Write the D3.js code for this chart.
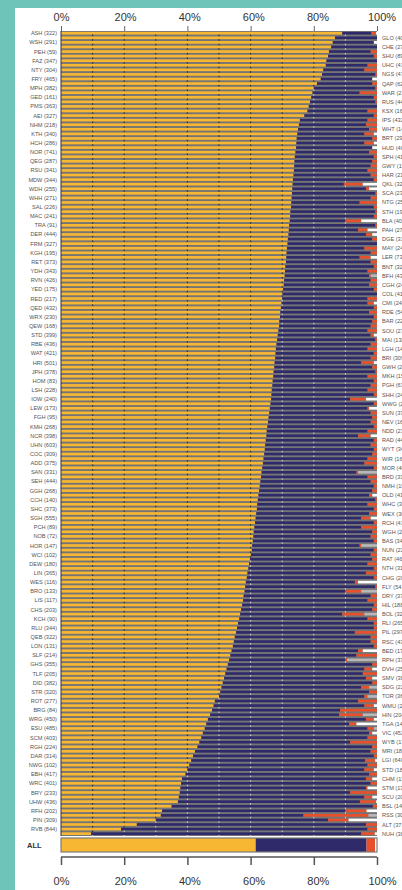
<!DOCTYPE html>
<html>
<head>
<meta charset="utf-8">
<script src="https://cdn.jsdelivr.net/npm/d3@7"></script>
<style>
html,body{margin:0;padding:0;background:#6ec4b8;overflow:hidden;}
svg{display:block;font-family:"Liberation Sans",Arial,Helvetica,sans-serif;}
</style>
</head>
<body>
<svg id="chart" width="402" height="890"></svg>
<script>
// ---------- DATA ----------
const leftLabels = ["ASH (322)","WSH (291)","PEH (59)","FAZ (347)","NTY (304)","FRY (465)","MPH (382)","GED (161)","PMS (363)","AEI (327)",
"NHM (218)","KTH (340)","HCH (286)","NOR (741)","QEG (287)","RSU (341)","MDW (344)","WDH (255)","WHH (271)","SAL (226)",
"MAC (241)","TRA (91)","DER (444)","FRM (327)","KGH (195)","RET (373)","YDH (343)","RVN (426)","YED (175)","RED (217)",
"QED (432)","WRX (230)","QEW (168)","STD (399)","RBE (436)","WAT (421)","HRI (501)","JPH (378)","HOM (83)","LSH (228)",
"IOW (240)","LEW (173)","FGH (95)","KMH (268)","NCR (398)","UHN (603)","COC (309)","ADD (375)","SAN (331)","SEH (444)",
"GGH (268)","CCH (140)","SHC (373)","SGH (555)","PCH (89)","NOB (72)","HOR (147)","WCI (102)","DEW (180)","LIN (365)",
"WES (116)","BRO (133)","LIS (117)","CHS (203)","KCH (90)","RLU (344)","QEB (322)","LON (131)","SLF (214)","GHS (355)",
"TLF (205)","DID (382)","STR (320)","ROT (277)","BRG (84)","WRG (450)","ESU (485)","SCM (403)","RGH (224)","DAR (314)",
"NWG (102)","EBH (417)","WRC (401)","BRY (233)","UHW (436)","RFH (202)","PIN (309)","RVB (844)"];

const rightLabels = ["GLO (408)","CHE (274)","SHU (89)","UHC (412)","NGS (471)","QAP (62)","WAR (215)","RUS (443)","KSX (163)","IPS (432)",
"WHT (148)","BRT (292)","HUD (405)","SPH (410)","GWY (152)","HAR (213)","QKL (325)","SCA (233)","NTG (256)","STH (195)",
"BLA (402)","PAH (275)","DGE (311)","MAY (245)","LER (731)","BNT (325)","BFH (436)","CGH (242)","COL (412)","CMI (248)",
"RDE (545)","BAR (224)","SOU (271)","MAI (138)","LGH (145)","BRI (309)","GWH (264)","MKH (156)","PGH (633)","SHH (243)",
"WWG (236)","SUN (372)","NEV (162)","NDD (235)","RAD (442)","WYT (341)","WIR (163)","MOR (407)","BRD (331)","NMH (190)",
"OLD (412)","WHC (348)","WEX (306)","RCH (417)","WGH (246)","BAS (344)","NUN (226)","RAT (462)","NTH (315)","CHG (282)",
"FLY (541)","DRY (372)","HIL (188)","BOL (321)","RLI (265)","PIL (297)","RSC (430)","BED (176)","RPH (370)","DVH (250)",
"SMV (386)","SDG (225)","TOR (360)","WMU (236)","HIN (204)","TGA (148)","VIC (452)","WYB (176)","MRI (184)","LGI (640)",
"STD (184)","CHM (137)","STM (136)","SCU (208)","BSL (145)","RSS (304)","ALT (371)","NUH (386)"];

// percentages per row (rows alternate: left label, right label)
const orange = [89.0,86.7,86.0,85.5,84.8,84.5,84.0,83.8,83.0,82.6,
82.2,81.0,80.0,79.6,79.2,78.8,78.4,78.0,77.0,75.6,
75.3,75.0,74.8,74.6,74.5,74.4,74.2,74.0,73.9,73.8,
73.7,73.6,73.4,73.3,73.2,73.1,73.0,72.9,72.8,72.6,
72.5,72.4,72.2,72.1,72.0,71.8,71.7,71.5,71.4,71.3,
71.2,71.0,70.9,70.8,70.6,70.5,70.3,70.1,70.0,69.8,
69.6,69.4,69.3,69.1,69.0,68.8,68.6,68.4,68.2,68.0,
67.9,67.8,67.6,67.5,67.3,67.2,67.0,66.9,66.7,66.6,
66.5,66.3,66.1,65.9,65.7,65.5,65.3,65.1,65.0,64.8,
64.6,64.5,64.3,64.1,63.9,63.7,63.5,63.3,63.1,62.9,
62.7,62.5,62.3,62.1,62.0,61.8,61.6,61.4,61.2,61.0,
60.9,60.7,60.5,60.4,60.1,59.8,59.5,59.3,59.0,58.8,
58.5,58.3,58.1,57.8,57.6,57.3,57.0,56.7,56.4,56.0,
55.7,55.4,55.0,54.7,54.4,54.0,53.6,53.2,52.8,52.4,
52.0,51.6,51.2,50.8,50.4,50.0,48.7,48.3,47.8,47.2,
46.5,46.0,45.5,44.9,44.4,43.8,43.2,42.4,41.8,41.2,
40.6,40.0,39.4,38.3,38.0,37.8,37.6,37.3,37.0,35.0,
32.0,31.6,30.0,24.0,19.0,9.5];

const navy = [9.2,13.3,13.0,14.5,13.2,14.5,16.0,13.2,13.0,16.9,
16.3,17.5,19.5,14.9,19.8,20.7,21.6,19.0,22.0,21.4,
21.2,22.5,21.2,23.9,21.5,24.1,23.3,25.0,24.6,24.2,
23.3,24.4,25.6,16.2,23.3,26.4,25.0,21.6,26.2,26.9,
26.5,17.6,27.3,21.9,24.5,26.7,28.3,24.5,26.6,23.2,
26.8,28.0,26.1,26.7,27.4,27.0,28.7,29.9,27.0,27.2,
29.4,28.1,29.7,29.4,29.0,28.2,29.4,31.1,29.8,29.0,
31.1,30.2,27.4,31.0,32.2,29.8,32.0,31.1,30.3,32.4,
25.0,32.7,30.9,32.1,32.8,32.5,33.7,31.9,29.0,34.2,
33.4,34.5,34.2,32.9,32.1,35.3,30.0,33.7,34.9,36.1,
35.8,35.0,37.2,34.9,37.0,35.7,33.4,37.6,33.8,37.5,
37.1,38.3,34.0,38.6,37.9,38.7,37.5,39.7,37.5,40.2,
34.5,41.2,31.9,40.2,39.4,41.7,41.5,32.3,40.6,43.0,
43.3,37.6,43.0,43.3,44.6,40.0,39.9,36.8,45.7,43.6,
43.5,44.9,47.3,44.2,47.1,46.0,45.3,47.7,40.5,40.8,
50.0,45.2,51.5,52.6,52.6,47.7,55.3,55.6,57.2,55.0,
56.4,56.0,58.1,58.2,60.0,58.7,53.9,58.7,57.6,63.7,
58.0,45.1,54.5,72.5,78.0,85.5];

const red = [1.5,0,0,0,2,1,0,3,4,0.5,
0,1.5,0.5,5.5,1,0.5,0,3,1,3,
3.5,2.5,3,1.5,3,0,2.5,1,1.5,2,
3,2,1,6,1,0.5,2,5.5,1,0.5,
1,5,0.5,3,2,1.5,0,4,2,3.5,
2,1,3,0.5,2,2.5,1,0,3,2,
1,2.5,1,1.5,2,3,1,0.5,2,3,
1,2,4,1.5,0.5,3,1,2,3,1,
5,1,0.5,2,1.5,2,1,3,4,1,
2,1,1.5,3,4,1,0.5,3,2,1,
1.5,1,0.5,3,1,2.5,3,1,5,1.5,
2,1,0.5,1,2,1.5,3,1,3.5,1,
1,0.5,5,2,3,1,1.5,7,3,1,
1,7,2,2,1,1.5,6.5,0.5,1.5,2.5,
4.5,2,1.5,2.5,2.5,1,6,3,11.7,7.5,
2.5,2.3,2,1,3,8.5,1.5,2,1,3.2,
3,3,2.5,2,2,0.5,8.5,2.5,5.1,1.3,
6.7,20.6,6.5,3.5,3,4.3];

const white = [0.3,0,1,0,0,0,0,0,0,0,
1.5,0,0,0,0,0,0,0,0,0,
0,0,1,0,1,1.5,0,0,0,0,
0,0,0,4.5,2.5,0,0,0,0,0,
0,5,0,3,1.5,0,0,0,0,2,
0,0,0,0,0,0,0,0,0,1,
0,0,0,0,0,0,1,0,0,0,
0,0,1,0,0,0,0,0,0,0,
3.5,0,2.5,0,0,0,0,0,2,0,
0,0,0,0,0,0,0,0,0,0,
0,1.5,0,0,0,0,2,0,0,0,
0,0,0,0,0,0,0,0,0,0,
6,0,0,0,0,0,0,0,0,0,
0,0,0,0,0,4.5,0,0,0,1.5,
0,1.5,0,0,0,0,0,1,0,0,
1,6.5,0,1.5,0,0,0,0,0,0.6,
0,1,0,1.5,0,3,0,1.5,0.3,0,
3.3,0,9,0,0,0.7];

const grey = [0,0,0,0,0,0,0,0,0,0,
0,0,0,0,0,0,0,0,0,0,
0,0,0,0,0,0,0,0,0,0,
0,0,0,0,0,0,0,0,0,0,
0,0,0,0,0,0,0,0,0,0,
0,0,0,2,0,0,0,0,0,0,
0,0,0,0,0,0,0,0,0,0,
0,0,0,0,0,0,0,0,0,0,
0,0,0,0,0,0,0,0,0,0,
0,0,0,0,0,0,6,0,0,0,
0,0,0,0,0,0,0,0,0,0,
0,0,5,0,0,0,0,0,0,0,
0,0,5,0,0,0,0,4,0,0,
0,0,0,0,0,0,0,9.5,0,0,
0,0,0,2.5,0,3,0,0,0,4.5,
0,0,1,0,0,0,0,0,0,0,
0,0,0,0,0,0,0,0,0,0,
0,2.7,0,0,0,0];

const allLabel = "ALL";
const allValues = {orange:61.6, navy:35.1, red:2.7, white:0.6, grey:0};

const tickValues = [0,20,40,60,80,100];
const gridValues = [10,20,30,40,50,60,70,80,90];
const keys = ["orange","navy","red","white","grey"];
const colors = {orange:"#f7b733", navy:"#2f2b6b", red:"#e8502b", white:"#ffffff", grey:"#b8b8b8"};

// ---------- BUILD ----------
const rows = d3.range(orange.length).map(i => ({
  i,
  label: i % 2 === 0 ? leftLabels[i/2] : rightLabels[(i-1)/2],
  orange: orange[i], navy: navy[i], red: red[i], white: white[i], grey: grey[i]
}));

const svg = d3.select("#chart");
svg.append("rect").attr("x",0).attr("y",0).attr("width",402).attr("height",890).attr("fill","#6ec4b8");
svg.append("rect").attr("x",15).attr("y",8).attr("width",387).attr("height",882).attr("fill","#ffffff");

const x = d3.scaleLinear().domain([0,100]).range([61,377]);
const y = d3.scaleBand().domain(rows.map(d=>d.i)).range([31,836]).paddingInner(0).paddingOuter(0);
const bw = y.bandwidth();

// plot background (gaps)
svg.append("rect").attr("x",x(0)).attr("y",31).attr("width",x(100)-x(0)).attr("height",836-31).attr("fill","#757575");

const stack = d3.stack().keys(keys);
const series = stack(rows);

const barPad = 0.9, barH = bw - 1.9;
svg.append("g").selectAll("g").data(series).join("g")
  .attr("fill", s => colors[s.key])
  .selectAll("rect").data(s => s).join("rect")
  .attr("x", d => x(d[0]))
  .attr("width", d => Math.max(0, x(d[1]) - x(d[0])))
  .attr("y", d => y(d.data.i) + barPad)
  .attr("height", barH);

// gridline marks in the gaps
const gm = svg.append("g");
rows.forEach(r => {
  gridValues.forEach(v => {
    gm.append("rect")
      .attr("x", x(v) - 0.5).attr("width", 1)
      .attr("y", y(r.i) + barPad + barH).attr("height", bw - barH - 0.3)
      .attr("fill", v < r.orange ? "#2a2a2a" : "#d0d0d0");
  });
});
svg.append("line").attr("x1",x(0)).attr("x2",x(0)).attr("y1",31).attr("y2",836)
  .attr("stroke","#333").attr("stroke-width",1);

// row labels
svg.append("g").selectAll("text").data(rows).join("text")
  .attr("x", d => d.i % 2 === 0 ? 57 : 382)
  .attr("y", d => y(d.i) + bw/2)
  .attr("dy","0.35em")
  .attr("text-anchor", d => d.i % 2 === 0 ? "end" : "start")
  .attr("font-size", 5.6)
  .attr("fill", "#555")
  .text(d => d.label);

// ALL bar
const allY = 838, allH = 14;
let acc = 0;
const allSegs = keys.map(k => { const s = {key:k, x0:acc, x1:acc+allValues[k]}; acc += allValues[k]; return s; });
svg.append("rect").attr("x",x(0)).attr("y",allY).attr("width",x(100)-x(0)).attr("height",allH)
  .attr("fill","#ffffff");
svg.append("g").selectAll("rect").data(allSegs).join("rect")
  .attr("x", d => x(d.x0)).attr("width", d => Math.max(0, x(d.x1)-x(d.x0)))
  .attr("y", allY).attr("height", allH).attr("fill", d => colors[d.key]);
svg.append("rect").attr("x",x(0)).attr("y",allY).attr("width",x(100)-x(0)).attr("height",allH)
  .attr("fill","none").attr("stroke","#7a7a7a").attr("stroke-width",1.2);
svg.append("text").attr("x",27).attr("y",allY+allH/2).attr("dy","0.35em")
  .attr("font-size",7.5).attr("font-weight","bold").attr("fill","#333").text(allLabel);

// top axis
const topAxis = d3.axisTop(x).tickValues(tickValues).tickSize(5).tickFormat(d => d + "%");
const gTop = svg.append("g").attr("transform","translate(0,31)").call(topAxis);
gTop.select(".domain").remove();
gTop.selectAll(".tick line").attr("stroke","#666").attr("stroke-width",1);
gTop.selectAll(".tick text").attr("font-size",11).attr("fill","#333")
  .attr("font-family","Liberation Sans, Arial, sans-serif")
  .attr("y",-10).attr("dx", d => d*0.045);

// bottom axis
const botAxis = d3.axisBottom(x).tickValues(tickValues).tickSize(8).tickFormat(d => d + "%");
const gBot = svg.append("g").attr("transform","translate(0,857)").call(botAxis);
gBot.select(".domain").attr("stroke","#555").attr("stroke-width",1.5).attr("d","M61,0H377");
gBot.selectAll(".tick line").attr("stroke","#555").attr("stroke-width",1.5);
gBot.selectAll(".tick text").attr("font-size",11).attr("fill","#333")
  .attr("font-family","Liberation Sans, Arial, sans-serif")
  .attr("y",20).attr("dx", d => d*0.05);
</script>
</body>
</html>
